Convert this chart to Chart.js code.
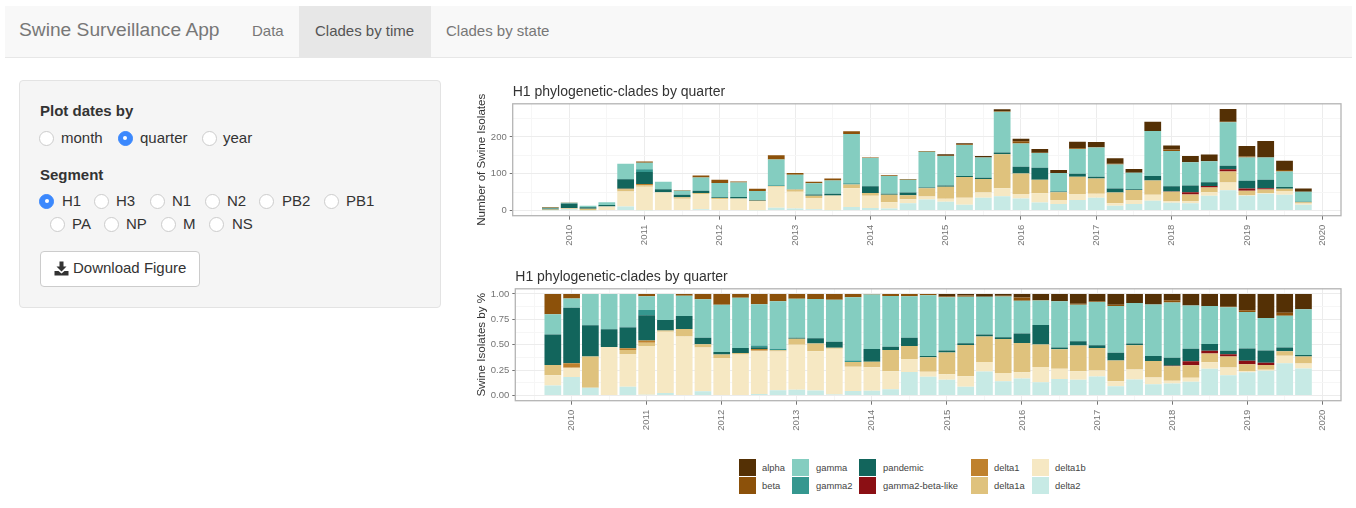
<!DOCTYPE html>
<html>
<head>
<meta charset="utf-8">
<title>Swine Surveillance App</title>
<script src="https://cdn.jsdelivr.net/npm/chart.js@4"></script>
<style>
html, body { margin: 0; padding: 0; background: #fff; width: 1356px; height: 508px; overflow: hidden; font-family: "Liberation Sans", Arial, sans-serif; }
.abs { position: absolute; white-space: nowrap; }
#navbar { left: 5px; top: 6px; width: 1347px; height: 51px; background: #f8f8f8; border-bottom: 1px solid #e7e7e7; }
#activeTab { left: 299px; top: 6px; width: 132px; height: 51px; background: #e7e7e7; }
.nav { top: 21px; font-size: 15px; line-height: 20px; color: #777; }
.nav.on { color: #555; }
#brand { left: 19px; top: 18px; font-size: 19.2px; line-height: 24px; color: #777; }
#well { left: 19px; top: 80px; width: 420px; height: 226px; background: #f5f5f5; border: 1px solid #e3e3e3; border-radius: 4px; }
.head { left: 40px; font-size: 15px; font-weight: bold; line-height: 20px; color: #333; }
.radio { width: 13px; height: 13px; border: 1px solid #ccc; border-radius: 50%; background: #fff; }
.radio.on { background: #3b88fd; border-color: #3b88fd; }
.radio.on::after { content: ""; position: absolute; left: 4.5px; top: 4.5px; width: 4px; height: 4px; border-radius: 50%; background: #fff; }
.rlabel { font-size: 15px; line-height: 20px; color: #333; }
#btn { left: 40px; top: 251px; width: 158px; height: 34px; background: #fff; border: 1px solid #ccc; border-radius: 4px; }
#btnText { left: 73px; top: 258px; font-size: 15px; line-height: 20px; color: #333; }
.swatch { width: 17px; height: 17px; }
.ltext { font-size: 9.4px; line-height: 17px; color: #444; }
canvas { position: absolute; }
</style>
</head>
<body>
<div class="abs" id="navbar"></div>
<div class="abs" id="activeTab"></div>
<div class="abs" id="brand">Swine Surveillance App</div>
<div class="abs nav" style="left:252px">Data</div>
<div class="abs nav on" style="left:315px">Clades by time</div>
<div class="abs nav" style="left:446px">Clades by state</div>
<div class="abs" id="well"></div>
<div class="abs head" style="top:101px">Plot dates by</div>
<div class="abs head" style="top:165px">Segment</div>
<div class="abs" id="btn"></div>
<svg class="abs" style="left:54px;top:261px" width="15" height="15" viewBox="0 0 15 15">
  <path d="M5.5 0.5h4v5h3l-5 5-5-5h3z" fill="#333"/>
  <path d="M0.5 10h4l3 2.5 3-2.5h4v4.5h-14z" fill="#333"/>
</svg>
<div class="abs" id="btnText">Download Figure</div>
<canvas id="chart" width="880" height="180" style="left:470px;top:80px"></canvas>
<canvas id="chart2" width="880" height="180" style="left:470px;top:265px"></canvas>

<script>
'use strict'

const quarters = [2009.75,
    2010, 2010.25, 2010.5, 2010.75, 2011, 2011.25, 2011.5, 2011.75,
    2012, 2012.25, 2012.5, 2012.75, 2013, 2013.25, 2013.5, 2013.75,
    2014, 2014.25, 2014.5, 2014.75, 2015, 2015.25, 2015.5, 2015.75,
    2016, 2016.25, 2016.5, 2016.75, 2017, 2017.25, 2017.5, 2017.75,
    2018, 2018.25, 2018.5, 2018.75, 2019, 2019.25, 2019.5, 2019.75];

// isolates per quarter
const alpha = [0,0,0,0,0,0,0,0,0,0,0,0,0,0,0,0,0,0,0,0,0,4,3,4,5,7,10,8,18,14,15,10,25,11,17,18,35,28,45,25,9];
const beta = [2,1,0,0,0,3,0,1,5,9,3,6,11,5,4,5,7,1,2,2,2,1,2,0,2,6,1,0,2,1,2,0,0,4,0,0,1,3,0,4,0];
const gamma = [2,2,4,8,41,18,20,11,36,39,39,24,70,39,30,36,134,77,48,35,97,80,84,55,110,63,40,50,67,79,65,45,122,96,63,57,118,63,60,42,27];
const gamma2 = [0,0,0,0,1,7,0,0,0,0,0,1,2,0,0,0,3,0,0,0,0,0,0,0,0,0,0,0,0,0,0,0,0,0,0,0,0,0,0,0,0];
const pandemic = [3,12,4,4,26,33,8,7,6,2,4,1,0,1,4,5,0,18,3,7,2,3,3,3,5,18,32,2,8,5,11,2,12,14,18,10,10,21,23,5,1];
const gammaBetaLike = [0,0,0,0,0,0,0,0,0,0,0,0,0,0,0,0,0,0,0,0,0,0,0,0,0,0,0,0,0,0,0,0,0,1,6,4,6,6,4,0,0];
const delta1 = [0,1,0,0,2,3,0,0,0,0,0,1,0,0,0,0,0,0,0,0,0,0,0,0,0,0,0,0,0,0,0,0,0,0,0,0,0,0,0,0,0];
const delta1a = [1,0,4,0,5,4,1,4,3,3,1,0,2,6,6,1,10,8,20,11,23,33,56,37,92,56,37,21,47,41,29,27,39,25,18,13,30,12,9,6,4];
const delta1b = [1,2,0,11,41,64,47,32,41,31,32,25,57,45,30,39,51,33,17,11,8,8,19,14,22,12,25,11,16,11,7,11,16,5,6,10,21,2,2,10,3];
const delta2 = [1,4,1,0,11,1,2,0,4,0,0,1,8,6,4,1,10,7,6,20,30,24,16,35,39,33,22,18,29,35,13,18,27,21,20,40,55,40,46,43,16];

const clades = ['delta2','delta1b','delta1a','delta1','gamma2-beta-like','pandemic','gamma2','gamma','beta','alpha'];
const cladeValues = [delta2, delta1b, delta1a, delta1, gammaBetaLike, pandemic, gamma2, gamma, beta, alpha];
const cladeColors = ['#c7eae5','#f6e8c3','#dfc27d','#bf812d','#8b0f14','#12655c','#35978f','#84cdc0','#8c510a','#543005'];

const legendColumns = [['alpha','beta'],['gamma','gamma2'],['pandemic','gamma2-beta-like'],['delta1','delta1a'],['delta1b','delta2']];
const titleText = 'H1 phylogenetic-clades by quarter';
const xGrid = [2009.5,2010,2010.5,2011,2011.5,2012,2012.5,2013,2013.5,2014,2014.5,2015,2015.5,2016,2016.5,2017,2017.5,2018,2018.5,2019,2019.5,2020];

const MAJOR = '#ececec', MINOR = '#f6f6f6', BORDER = '#b4b4b4', TICK = '#747474', NONE = 'rgba(0,0,0,0)';

function radio(label, cx, tx, cy, on){
    document.body.insertAdjacentHTML('beforeend',
        `<div class="abs radio${on ? ' on' : ''}" style="left:${cx - 7.5}px;top:${cy - 7.5}px"></div>` +
        `<div class="abs rlabel" style="left:${tx}px;top:${cy - 10}px">${label}</div>`);
}
radio('month', 46.5, 61, 138, false);
radio('quarter', 125, 140, 138, true);
radio('year', 209, 223, 138, false);
radio('H1', 46.5, 62, 201, true);
radio('H3', 101.5, 116, 201, false);
radio('N1', 157, 172, 201, false);
radio('N2', 212, 227, 201, false);
radio('PB2', 266.5, 282, 201, false);
radio('PB1', 331, 346, 201, false);
radio('PA', 57, 72, 224, false);
radio('NP', 111, 126, 224, false);
radio('M', 168, 183, 224, false);
radio('NS', 216.5, 232, 224, false);

function dibujarLeyenda(){
    const swatchX = [739, 792, 859, 971, 1032];
    const textX = [762, 816, 883, 994, 1055];
    const rowY = [459, 477];
    legendColumns.forEach((col, c) => col.forEach((name, r) => {
        const color = cladeColors[clades.indexOf(name)];
        document.body.insertAdjacentHTML('beforeend',
            `<div class="abs swatch" style="left:${swatchX[c]}px;top:${rowY[r]}px;background:${color}"></div>` +
            `<div class="abs ltext" style="left:${textX[c]}px;top:${rowY[r]}px">${name}</div>`);
    }));
}

// the panel frame goes on top of the bars like ggplot's theme_bw
const panelBorder = {
    id: 'panelBorder',
    afterDraw(chart){
        const a = chart.chartArea, c = chart.ctx;
        c.save();
        c.strokeStyle = BORDER;
        c.lineWidth = 1.3;
        c.strokeRect(a.left, a.top, a.right - a.left, a.bottom - a.top);
        c.restore();
    }
};

function isYear(c){
    return !!c.tick && Number.isInteger(c.tick.value);
}

function dibujar(id, series, yLabel, yOpts, axisWidth){
    const datasets = clades.map((name, i) => ({
        label: name,
        backgroundColor: cladeColors[i],
        data: series[i].map((v, j) => ({ x: quarters[j], y: v })),
        barPercentage: 0.89,
        categoryPercentage: 1,
        borderWidth: 0
    }));
    return new Chart(document.getElementById(id).getContext('2d'), {
        type: 'bar',
        data: { datasets: datasets },
        plugins: [panelBorder],
        options: {
            responsive: false,
            animation: false,
            layout: { padding: { right: 9, top: 0, bottom: 0, left: 0 } },
            plugins: {
                legend: { display: false },
                tooltip: { enabled: false },
                title: {
                    display: true,
                    text: titleText,
                    align: 'start',
                    fullSize: false,
                    color: '#333',
                    font: { family: 'Liberation Sans', size: 14, weight: 'normal' },
                    padding: { top: 4, bottom: 3 }
                }
            },
            scales: {
                x: {
                    type: 'linear',
                    stacked: true,
                    offset: false,
                    min: 2009.25,
                    max: 2020.25,
                    afterBuildTicks: s => { s.ticks = xGrid.map(v => ({ value: v })); },
                    afterFit: s => { s.height = 44.3; },
                    border: { display: false },
                    grid: {
                        offset: false,
                        color: c => isYear(c) ? MAJOR : MINOR,
                        tickColor: c => isYear(c) ? TICK : NONE,
                        tickLength: 4
                    },
                    ticks: {
                        autoSkip: false,
                        minRotation: 90,
                        maxRotation: 90,
                        padding: 5,
                        color: TICK,
                        font: { family: 'Liberation Sans', size: 9.5 },
                        callback: v => Number.isInteger(v) ? String(v) : ''
                    }
                },
                y: Object.assign({
                    stacked: true,
                    afterFit: s => { s.width = axisWidth; },
                    border: { display: false },
                    title: {
                        display: true,
                        text: yLabel,
                        color: '#333',
                        font: { family: 'Liberation Sans', size: 11.6 },
                        padding: { top: 5, bottom: 0 }
                    }
                }, yOpts)
            }
        }
    });
}

function shares(){
    // lower panel is the same isolates as a fraction of each quarter
    const totals = quarters.map((q, j) => cladeValues.reduce((sum, s) => sum + s[j], 0));
    return cladeValues.map(s => s.map((v, j) => v / totals[j]));
}

dibujar('chart', cladeValues, 'Number of Swine Isolates', {
    min: -13.8,
    max: 289.8,
    grid: {
        color: c => c.tick && c.tick.value % 100 === 0 ? MAJOR : MINOR,
        tickColor: c => c.tick && c.tick.value % 100 === 0 ? TICK : NONE,
        tickLength: 3
    },
    ticks: {
        stepSize: 50,
        includeBounds: false,
        autoSkip: false,
        padding: 3,
        color: TICK,
        font: { family: 'Liberation Sans', size: 9.5 },
        callback: v => v % 100 === 0 ? String(v) : ''
    }
}, 42.7);

dibujar('chart2', shares(), 'Swine Isolates by %', {
    min: -0.05,
    max: 1.05,
    grid: {
        color: c => c.tick && c.tick.value % 0.25 === 0 ? MAJOR : MINOR,
        tickColor: c => c.tick && c.tick.value % 0.25 === 0 ? TICK : NONE,
        tickLength: 3
    },
    ticks: {
        stepSize: 0.125,
        includeBounds: false,
        autoSkip: false,
        padding: 3,
        color: TICK,
        font: { family: 'Liberation Sans', size: 9.5 },
        callback: v => v % 0.25 === 0 ? v.toFixed(2) : ''
    }
}, 45.3);

dibujarLeyenda();
</script>
</body>
</html>
